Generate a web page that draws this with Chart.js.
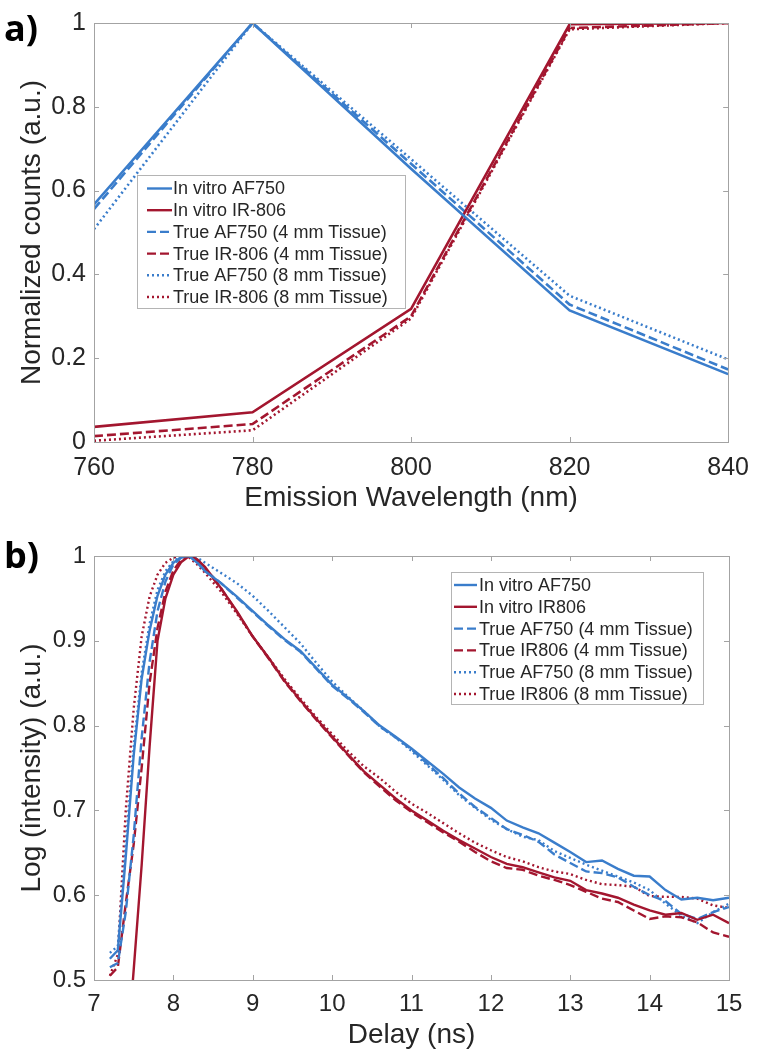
<!DOCTYPE html>
<html>
<head>
<meta charset="utf-8">
<script src="https://cdn.jsdelivr.net/npm/chart.js@4.4.0/dist/chart.umd.min.js"></script>
<style>
  body { margin: 0; background: #fff; width: 760px; height: 1055px; position: relative; overflow: hidden; }
  .panel { position: absolute; left: 0; }
  .tag { position: absolute; left: 4px; font: bold 36px 'Open Sans', sans-serif; color: #000; line-height: 1; }
</style>
</head>
<body>
<div class="panel" style="top:0"><canvas id="spectra" width="760" height="520"></canvas></div>
<div class="panel" style="top:520px"><canvas id="decay" width="760" height="535"></canvas></div>
<div class="tag" style="top:10px">a)</div>
<div class="tag" style="top:537px">b)</div>
<script>
// panel a: emission spectra
const wavelength = [760, 780, 800, 820, 840];
const af750InVitro = [0.567, 1.0, 0.652, 0.314, 0.162];
const ir806InVitro = [0.036, 0.071, 0.318, 0.997, 1.0];
const af750Tissue4 = [0.556, 1.0, 0.664, 0.328, 0.173];
const ir806Tissue4 = [0.014, 0.043, 0.300, 0.988, 1.0];
const af750Tissue8 = [0.508, 1.0, 0.675, 0.349, 0.197];
const ir806Tissue8 = [0.003, 0.028, 0.295, 0.985, 1.0];

// panel b: decay curves
const delay = [7.2, 7.3, 7.4, 7.5, 7.6, 7.7, 7.8, 7.9, 8.0, 8.1, 8.2, 8.3, 8.4,
  8.6, 8.8, 9.0, 9.2, 9.4, 9.6, 9.8, 10.0, 10.2, 10.4, 10.6, 10.8, 11.0, 11.2, 11.4, 11.6, 11.8,
  12.0, 12.2, 12.4, 12.6, 12.8, 13.0, 13.2, 13.4, 13.6, 13.8, 14.0, 14.2, 14.4, 14.6, 14.8, 15.0];
const decayAf750InVitro = [0.525, 0.535, 0.645, 0.765, 0.855, 0.912, 0.953, 0.978, 0.992, 0.999, 1.0, 0.992, 0.982,
  0.968, 0.952, 0.935, 0.918, 0.902, 0.888, 0.868, 0.848, 0.833, 0.817, 0.800, 0.787, 0.773, 0.758, 0.743, 0.727, 0.714,
  0.703, 0.688, 0.680, 0.673, 0.662, 0.651, 0.639, 0.641, 0.631, 0.623, 0.622, 0.606, 0.595, 0.597, 0.594, 0.597];
const decayIr806InVitro = [null, null, 0.39, 0.512, 0.635, 0.775, 0.900, 0.950, 0.978, 0.993, 1.0, 0.996, 0.987,
  0.962, 0.935, 0.905, 0.880, 0.853, 0.830, 0.808, 0.787, 0.766, 0.746, 0.730, 0.714, 0.700, 0.688, 0.676, 0.665, 0.655,
  0.645, 0.637, 0.633, 0.627, 0.621, 0.617, 0.606, 0.602, 0.597, 0.589, 0.582, 0.577, 0.579, 0.571, 0.577, 0.567];
const decayAf750Tissue4 = [0.515, 0.520, 0.580, 0.670, 0.785, 0.875, 0.935, 0.970, 0.990, 0.998, 1.0, 0.993, 0.983,
  0.968, 0.951, 0.934, 0.917, 0.901, 0.887, 0.867, 0.847, 0.832, 0.816, 0.799, 0.786, 0.772, 0.755, 0.738, 0.720, 0.704,
  0.691, 0.678, 0.671, 0.663, 0.648, 0.638, 0.628, 0.626, 0.621, 0.610, 0.600, 0.593, 0.578, 0.572, 0.580, 0.586];
const decayIr806Tissue4 = [0.505, 0.515, 0.590, 0.660, 0.750, 0.850, 0.915, 0.958, 0.983, 0.996, 1.0, 0.995, 0.985,
  0.962, 0.934, 0.905, 0.879, 0.852, 0.829, 0.807, 0.786, 0.765, 0.745, 0.728, 0.712, 0.698, 0.686, 0.674, 0.663, 0.651,
  0.640, 0.632, 0.630, 0.623, 0.618, 0.612, 0.604, 0.596, 0.592, 0.582, 0.572, 0.575, 0.574, 0.568, 0.556, 0.551];
const decayAf750Tissue8 = [0.532, 0.540, 0.660, 0.775, 0.862, 0.920, 0.960, 0.982, 0.994, 0.999, 1.0, 0.998, 0.992,
  0.980, 0.968, 0.953, 0.935, 0.916, 0.897, 0.874, 0.852, 0.834, 0.817, 0.799, 0.786, 0.770, 0.753, 0.736, 0.718, 0.703,
  0.689, 0.678, 0.669, 0.665, 0.652, 0.644, 0.636, 0.629, 0.622, 0.615, 0.606, 0.590, 0.576, 0.567, 0.580, 0.590];
const decayIr806Tissue8 = [0.505, 0.530, 0.700, 0.820, 0.905, 0.952, 0.978, 0.992, 0.998, 1.0, 0.998, 0.990, 0.980,
  0.958, 0.932, 0.905, 0.880, 0.855, 0.832, 0.810, 0.790, 0.770, 0.752, 0.738, 0.722, 0.708, 0.697, 0.685, 0.673, 0.662,
  0.653, 0.645, 0.640, 0.633, 0.628, 0.625, 0.618, 0.613, 0.612, 0.610, 0.599, 0.598, 0.598, 0.596, 0.588, 0.585];

const blue = '#3a7dcb';
const red = '#a3162f';
const axisColor = '#a3a3a3';
const textColor = '#262626';
const fontFamily = "'Liberation Sans', Arial, sans-serif";
const dashed = [9, 4];
const dotted = [2, 3];

function toPoints(xs, ys) {
  return xs.map((x, i) => ({ x: x, y: ys[i] }));
}

function series(label, xs, ys, color, dash, width) {
  return {
    label: label,
    data: toPoints(xs, ys),
    borderColor: color,
    borderDash: dash,
    borderWidth: width,
    borderCapStyle: 'butt',
    pointRadius: 0,
    tension: 0,
    spanGaps: false
  };
}

// matlab style box with inward ticks
const boxTicks = {
  id: 'boxTicks',
  afterDatasetsDraw(chart) {
    const { ctx, chartArea: a, scales: { x, y } } = chart;
    const len = 5;
    ctx.save();
    ctx.strokeStyle = axisColor;
    ctx.lineWidth = 1;
    ctx.setLineDash([]);
    ctx.strokeRect(Math.round(a.left) + 0.5, Math.round(a.top) + 0.5, Math.round(a.width), Math.round(a.height));
    ctx.beginPath();
    x.ticks.forEach(t => {
      const px = Math.round(x.getPixelForValue(t.value)) + 0.5;
      ctx.moveTo(px, a.bottom); ctx.lineTo(px, a.bottom - len);
      ctx.moveTo(px, a.top); ctx.lineTo(px, a.top + len);
    });
    y.ticks.forEach(t => {
      const py = Math.round(y.getPixelForValue(t.value)) + 0.5;
      ctx.moveTo(a.left, py); ctx.lineTo(a.left + len, py);
      ctx.moveTo(a.right, py); ctx.lineTo(a.right - len, py);
    });
    ctx.stroke();
    ctx.restore();
  }
};

const boxLegend = {
  id: 'boxLegend',
  afterDraw(chart, args, opts) {
    const ctx = chart.ctx;
    ctx.save();
    ctx.fillStyle = '#fff';
    ctx.fillRect(opts.left, opts.top, opts.width, opts.height);
    ctx.strokeStyle = '#b4b4b4';
    ctx.lineWidth = 1;
    ctx.strokeRect(opts.left + 0.5, opts.top + 0.5, opts.width, opts.height);
    ctx.font = opts.fontSize + 'px ' + fontFamily;
    ctx.textBaseline = 'middle';
    chart.data.datasets.forEach((ds, i) => {
      const cy = opts.top + opts.firstRow + i * opts.rowHeight;
      ctx.strokeStyle = ds.borderColor;
      ctx.lineWidth = 2.4;
      ctx.lineCap = 'butt';
      ctx.setLineDash(ds.borderDash || []);
      ctx.beginPath();
      ctx.moveTo(opts.left + opts.lineStart, cy);
      ctx.lineTo(opts.left + opts.lineStart + opts.lineLength, cy);
      ctx.stroke();
      ctx.setLineDash([]);
      ctx.fillStyle = textColor;
      ctx.fillText(ds.label, opts.left + opts.textStart, cy + 1);
    });
    ctx.restore();
  }
};

function axis(min, max, step, title, tickSize, tickPad, titlePad, fitSize, horizontal) {
  return {
    type: 'linear',
    min: min,
    max: max,
    grid: { display: false, drawTicks: false },
    border: { display: false },
    ticks: {
      stepSize: step,
      padding: tickPad,
      color: textColor,
      font: { family: fontFamily, size: tickSize },
      maxRotation: 0,
      autoSkip: false,
      callback: v => String(Number(v.toFixed(2)))
    },
    title: {
      display: true,
      text: title,
      color: textColor,
      font: { family: fontFamily, size: 28 },
      padding: titlePad
    },
    afterFit(scale) {
      if (horizontal) scale.height = fitSize; else scale.width = fitSize;
    }
  };
}

new Chart(document.getElementById('spectra'), {
  type: 'line',
  data: {
    datasets: [
      series('In vitro AF750', wavelength, af750InVitro, blue, [], 2.6),
      series('In vitro IR-806', wavelength, ir806InVitro, red, [], 2.6),
      series('True AF750 (4 mm Tissue)', wavelength, af750Tissue4, blue, dashed, 2.6),
      series('True IR-806 (4 mm Tissue)', wavelength, ir806Tissue4, red, dashed, 2.6),
      series('True AF750 (8 mm Tissue)', wavelength, af750Tissue8, blue, dotted, 2.6),
      series('True IR-806 (8 mm Tissue)', wavelength, ir806Tissue8, red, dotted, 2.6)
    ]
  },
  options: {
    responsive: false,
    animation: false,
    events: [],
    layout: { padding: { left: 0, top: 21, right: 31, bottom: 0 } },
    scales: {
      x: axis(760, 840, 20, 'Emission Wavelength (nm)', 25, 11, { bottom: 5 }, 78, true),
      y: axis(0, 1, 0.2, 'Normalized counts (a.u.)', 25, 8, { top: 15 }, 94, false)
    },
    plugins: {
      legend: { display: false },
      tooltip: { enabled: false },
      boxLegend: { left: 137, top: 175, width: 268, height: 133, firstRow: 13.5, rowHeight: 21.7,
        lineStart: 10, lineLength: 25, textStart: 36, fontSize: 18 }
    }
  },
  plugins: [boxTicks, boxLegend]
});

new Chart(document.getElementById('decay'), {
  type: 'line',
  data: {
    datasets: [
      series('In vitro AF750', delay, decayAf750InVitro, blue, [], 2.4),
      series('In vitro IR806', delay, decayIr806InVitro, red, [], 2.4),
      series('True AF750 (4 mm Tissue)', delay, decayAf750Tissue4, blue, dashed, 2.4),
      series('True IR806 (4 mm Tissue)', delay, decayIr806Tissue4, red, dashed, 2.4),
      series('True AF750 (8 mm Tissue)', delay, decayAf750Tissue8, blue, dotted, 2.4),
      series('True IR806 (8 mm Tissue)', delay, decayIr806Tissue8, red, dotted, 2.4)
    ]
  },
  options: {
    responsive: false,
    animation: false,
    events: [],
    layout: { padding: { left: 0, top: 36, right: 31, bottom: 0 } },
    scales: {
      x: axis(7, 15, 1, 'Delay (ns)', 24, 9.6, { bottom: 3 }, 75, true),
      y: axis(0.5, 1, 0.1, 'Log (intensity) (a.u.)', 24, 8, { top: 15 }, 94, false)
    },
    plugins: {
      legend: { display: false },
      tooltip: { enabled: false },
      boxLegend: { left: 451, top: 52, width: 252, height: 132, firstRow: 13, rowHeight: 21.8,
        lineStart: 3, lineLength: 23, textStart: 28, fontSize: 18 }
    }
  },
  plugins: [boxTicks, boxLegend]
});
</script>
</body>
</html>
